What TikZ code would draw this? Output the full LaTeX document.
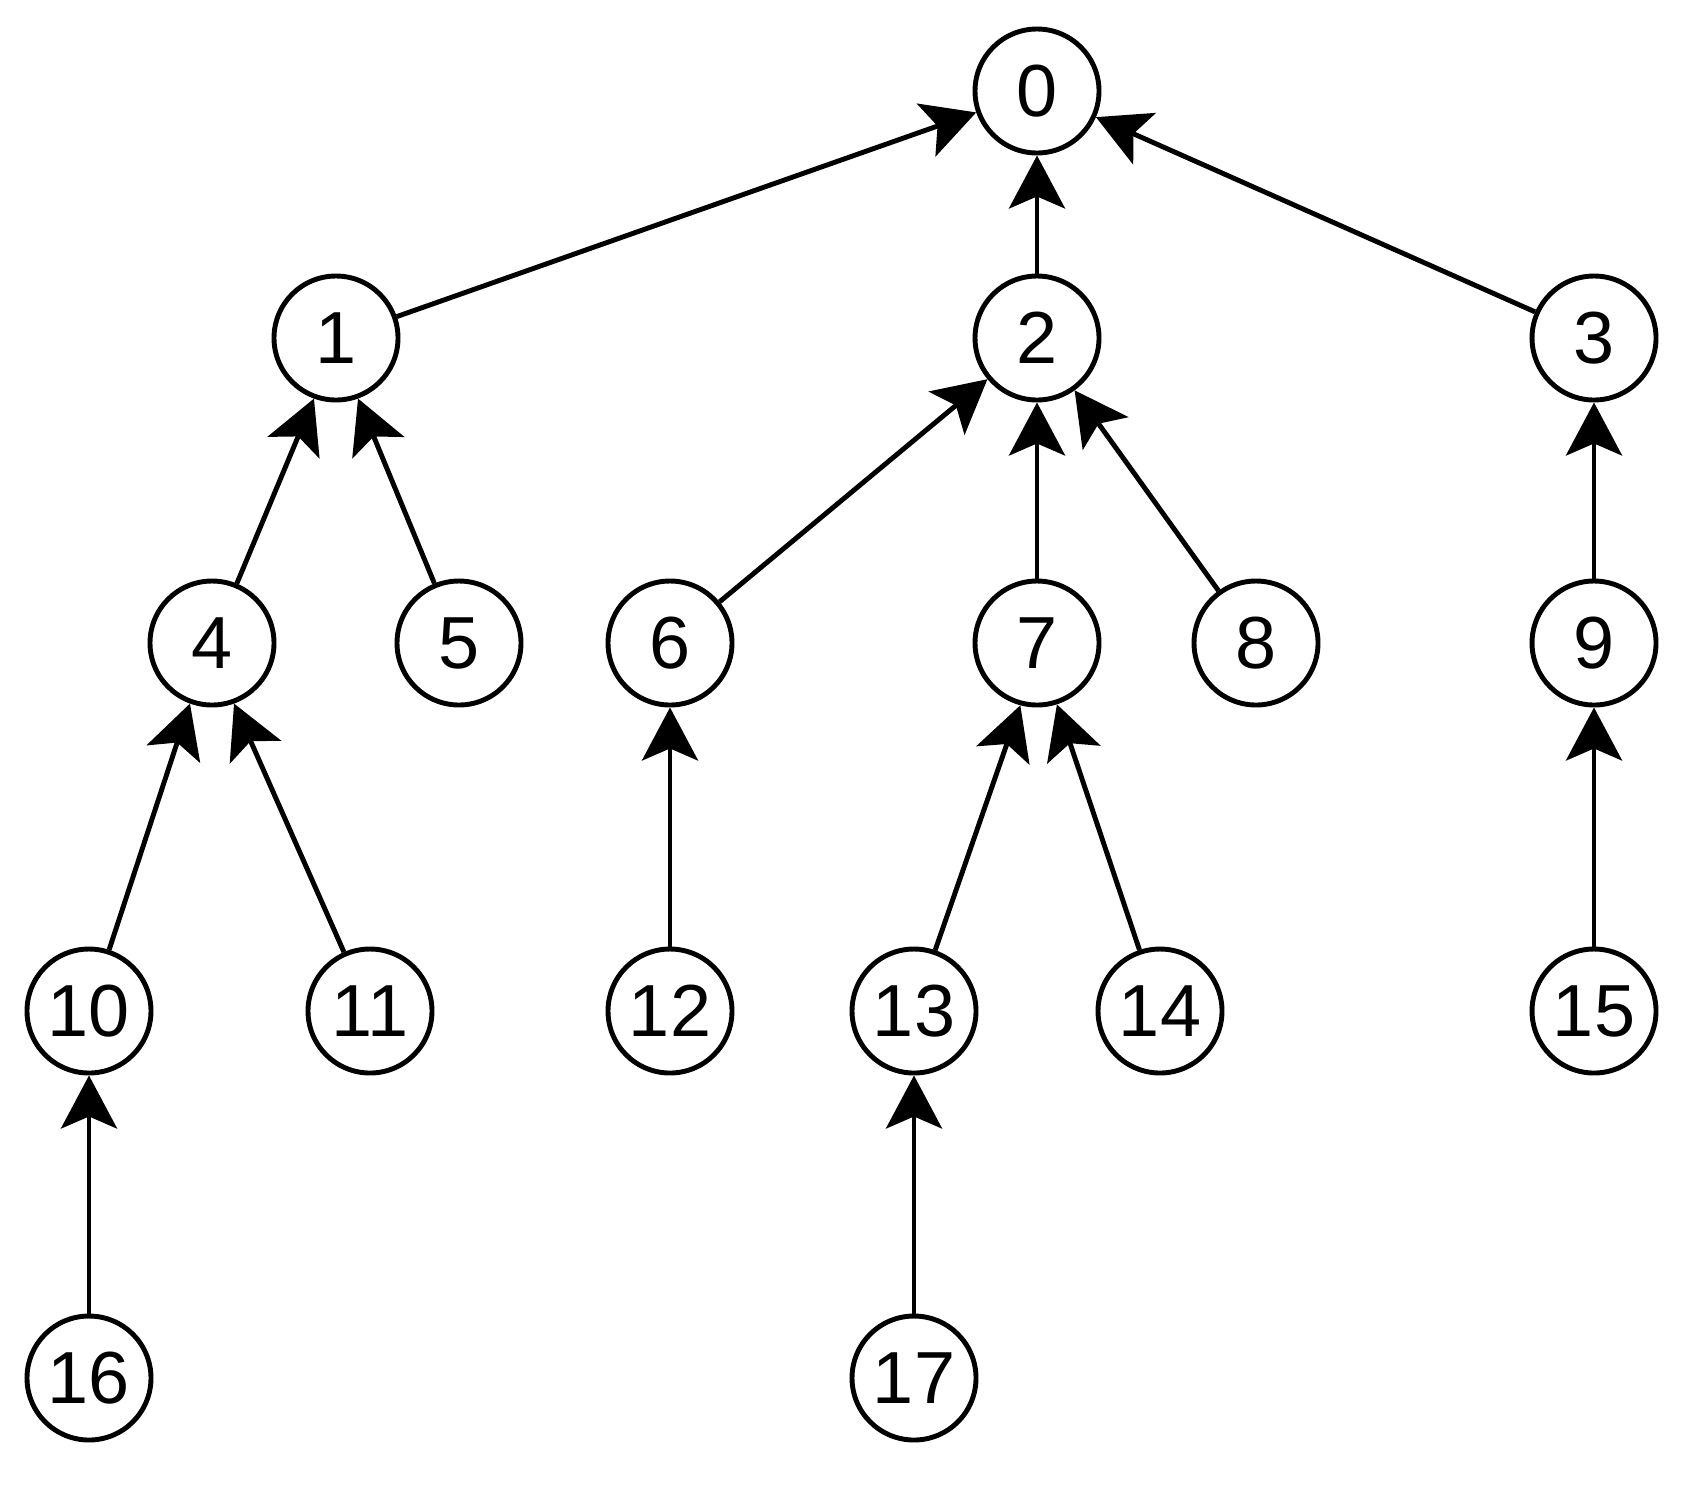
\documentclass[tikz,border=0pt]{standalone}
\usepackage{fontspec}
\setmainfont{Liberation Sans}
\usetikzlibrary{arrows.meta}

\begin{document}
\begin{tikzpicture}
\tikzset{noeud/.style={draw, circle, line width=1.4pt, minimum size=1.24cm, inner sep=0pt, font=\fontsize{21pt}{24pt}\selectfont},
fleche/.style={line width=1.4pt, -{Stealth[length=0.53cm, width=0.56cm, inset=0.12cm]}}}
\useasboundingbox (0, 0) rectangle (16.81, -14.92);
\node[noeud] (V0) at (10.37, -0.91) {0};
\node[noeud] (V1) at (3.36, -3.38) {1};
\node[noeud] (V2) at (10.37, -3.38) {2};
\node[noeud] (V3) at (15.94, -3.38) {3};
\node[noeud] (V4) at (2.12, -6.43) {4};
\node[noeud] (V5) at (4.59, -6.43) {5};
\node[noeud] (V6) at (6.70, -6.43) {6};
\node[noeud] (V7) at (10.37, -6.43) {7};
\node[noeud] (V8) at (12.56, -6.43) {8};
\node[noeud] (V9) at (15.94, -6.43) {9};
\node[noeud] (V10) at (0.89, -10.11) {10};
\node[noeud] (V11) at (3.70, -10.11) {11};
\node[noeud] (V12) at (6.70, -10.11) {12};
\node[noeud] (V13) at (9.14, -10.11) {13};
\node[noeud] (V14) at (11.60, -10.11) {14};
\node[noeud] (V15) at (15.94, -10.11) {15};
\node[noeud] (V16) at (0.89, -13.78) {16};
\node[noeud] (V17) at (9.14, -13.78) {17};
\draw[fleche] (V1) -- (V0);
\draw[fleche] (V2) -- (V0);
\draw[fleche] (V3) -- (V0);
\draw[fleche] (V4) -- (V1.-110);
\draw[fleche] (V5) -- (V1.-70);
\draw[fleche] (V6) -- (V2);
\draw[fleche] (V7) -- (V2);
\draw[fleche] (V8) -- (V2);
\draw[fleche] (V9) -- (V3);
\draw[fleche] (V10) -- (V4.-110);
\draw[fleche] (V11) -- (V4.-70);
\draw[fleche] (V12) -- (V6);
\draw[fleche] (V13) -- (V7.-105);
\draw[fleche] (V14) -- (V7.-72);
\draw[fleche] (V15) -- (V9);
\draw[fleche] (V16) -- (V10);
\draw[fleche] (V17) -- (V13);
\end{tikzpicture}
\end{document}
